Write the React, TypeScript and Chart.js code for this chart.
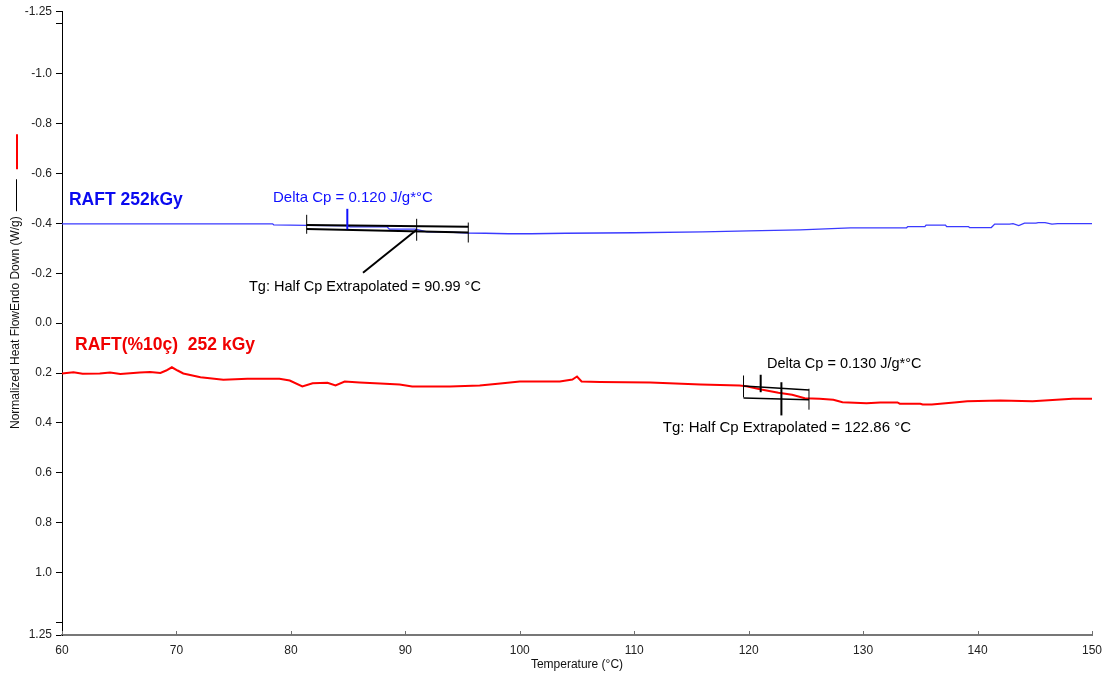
import { useEffect, useRef } from 'react';
import { Chart, registerables } from 'chart.js';

Chart.register(...registerables);

const FONT = 'Arial, "Liberation Sans", sans-serif';

// Axis ticks
const xTickValues = [60, 70, 80, 90, 100, 110, 120, 130, 140, 150];
const yTickValues = [-1.25, -1.2, -1.0, -0.8, -0.6, -0.4, -0.2, 0.0, 0.2, 0.4, 0.6, 0.8, 1.0, 1.2, 1.25];
const yTickLabels = ['-1.25', '', '-1.0', '-0.8', '-0.6', '-0.4', '-0.2', '0.0', '0.2', '0.4', '0.6', '0.8', '1.0', '', '1.25'];

// RAFT 252kGy heat flow curve (°C, W/g)
const blueTemps = [60, 78.4, 78.5, 81.4, 84.9, 85.2, 88.4, 88.6, 90.9, 91.9, 93.3, 95.5, 97, 99, 101, 104, 107, 110, 116, 120, 124.5, 128.9, 133.8, 133.9, 135.4, 135.5, 137.2, 137.3, 139.2, 139.3, 141.2, 141.5, 142.8, 143.1, 143.6, 144.1, 145.1, 145.3, 145.9, 146.5, 147, 150];
const blueFlow = [-0.398, -0.398, -0.394, -0.392, -0.390, -0.386, -0.386, -0.377, -0.377, -0.366, -0.366, -0.361, -0.360, -0.358, -0.358, -0.360, -0.361, -0.362, -0.366, -0.370, -0.374, -0.382, -0.382, -0.387, -0.387, -0.393, -0.393, -0.387, -0.387, -0.383, -0.383, -0.397, -0.397, -0.399, -0.391, -0.401, -0.401, -0.403, -0.403, -0.397, -0.399, -0.399];

// RAFT(%10ç) 252 kGy heat flow curve (°C, W/g)
const redTemps = [60, 61.0, 61.8, 63.3, 64.2, 65.1, 66.8, 67.7, 68.6, 69.1, 69.6, 70.1, 70.6, 72.1, 74.1, 76.2, 79.0, 79.9, 81.0, 81.9, 83.2, 83.9, 84.7, 86.0, 87.8, 89.5, 90.6, 93.9, 96.5, 98.3, 100.0, 103.5, 104.6, 105.0, 105.4, 107.0, 111.4, 115.8, 119.2, 119.8, 121.1, 122.6, 123.8, 124.9, 126.2, 127.4, 128.2, 130.3, 131.5, 133.0, 133.2, 135.0, 135.2, 136.0, 138.2, 139.1, 142.0, 144.8, 146.9, 148.3, 150];
const redFlow = [0.202, 0.197, 0.203, 0.202, 0.198, 0.204, 0.198, 0.196, 0.200, 0.190, 0.177, 0.190, 0.202, 0.217, 0.227, 0.223, 0.223, 0.230, 0.254, 0.241, 0.239, 0.250, 0.234, 0.238, 0.242, 0.246, 0.254, 0.254, 0.250, 0.242, 0.234, 0.234, 0.226, 0.214, 0.234, 0.236, 0.238, 0.246, 0.250, 0.253, 0.266, 0.279, 0.287, 0.301, 0.303, 0.307, 0.317, 0.321, 0.318, 0.318, 0.323, 0.323, 0.326, 0.326, 0.317, 0.313, 0.310, 0.313, 0.307, 0.303, 0.303];

// Glass transition analysis results
const blueTg = 90.99;
const redTg = 122.86;
const blueDeltaCp = 0.12;
const redDeltaCp = 0.13;

// Analysis construction lines: [T1, W1, T2, W2, lineWidth, colour]
type Seg = [number, number, number, number, number, string];
const blueTgLines: Seg[] = [
  [81.38, -0.393, 95.5, -0.386, 2, '#000'],
  [81.38, -0.377, 95.5, -0.363, 2, '#000'],
  [81.38, -0.434, 81.38, -0.358, 1, '#000'],
  [blueTg, -0.418, blueTg, -0.33, 1, '#000'],
  [95.5, -0.403, 95.5, -0.323, 1, '#000'],
  [86.3, -0.202, blueTg, -0.374, 2, '#000'],
  [84.93, -0.458, 84.93, -0.376, 2, '#1010ff'],
];
const redTgLines: Seg[] = [
  [119.55, 0.252, 125.27, 0.268, 1.5, '#000'],
  [119.55, 0.300, 125.27, 0.307, 1.5, '#000'],
  [119.55, 0.21, 119.55, 0.298, 1, '#000'],
  [121.05, 0.207, 121.05, 0.277, 2, '#000'],
  [redTg, 0.237, redTg, 0.37, 2, '#000'],
  [125.27, 0.263, 125.27, 0.347, 1, '#000'],
];

// Text labels anchored at (T, W), left-aligned
type Label = [string, number, number, string, string];
const labels: Label[] = [
  ['RAFT 252kGy', 60.61, -0.494, '#0a0aef', 'bold 17.5px'],
  ['RAFT(%10ç)  252 kGy', 61.14, 0.09, '#f00000', 'bold 17.5px'],
  [`Delta Cp = ${blueDeltaCp.toFixed(3)} J/g*°C`, 78.44, -0.502, '#1010ff', '15px'],
  [`Tg: Half Cp Extrapolated = ${blueTg.toFixed(2)} °C`, 76.34, -0.146, '#000', '14.5px'],
  [`Delta Cp = ${redDeltaCp.toFixed(3)} J/g*°C`, 121.6, 0.162, '#000', '14.5px'],
  [`Tg: Half Cp Extrapolated = ${redTg.toFixed(2)} °C`, 112.5, 0.418, '#000', '15px'],
];

const yTitle = 'Normalized Heat FlowEndo Down (W/g)';
const xTitle = 'Temperature (°C)';

const decorPlugin = {
  id: 'dscDecor',
  afterDatasetsDraw(chart: any) {
    const { ctx, chartArea, scales } = chart;
    const xs = scales.x;
    const ys = scales.y;
    ctx.save();
    // inward ticks on the temperature axis
    ctx.strokeStyle = '#707070';
    ctx.lineWidth = 1;
    xTickValues.forEach((t) => {
      const px = Math.round(xs.getPixelForValue(t)) + 0.5;
      ctx.beginPath();
      ctx.moveTo(px, chartArea.bottom);
      ctx.lineTo(px, chartArea.bottom - 4);
      ctx.stroke();
    });
    // Tg construction lines
    ctx.lineCap = 'butt';
    [...blueTgLines, ...redTgLines].forEach(([t1, w1, t2, w2, lw, col]) => {
      ctx.strokeStyle = col;
      ctx.lineWidth = lw;
      ctx.beginPath();
      ctx.moveTo(xs.getPixelForValue(t1), ys.getPixelForValue(w1));
      ctx.lineTo(xs.getPixelForValue(t2), ys.getPixelForValue(w2));
      ctx.stroke();
    });
    // labels
    ctx.textAlign = 'left';
    ctx.textBaseline = 'middle';
    labels.forEach(([text, t, w, col, f]) => {
      ctx.fillStyle = col;
      ctx.font = `${f} ${FONT}`;
      ctx.fillText(text, xs.getPixelForValue(t), ys.getPixelForValue(w));
    });
    // axis titles
    ctx.fillStyle = '#111';
    ctx.font = `12px ${FONT}`;
    ctx.textAlign = 'center';
    ctx.fillText(xTitle, (chartArea.left + chartArea.right) / 2, 665);
    ctx.translate(16, 429);
    ctx.rotate(-Math.PI / 2);
    ctx.textAlign = 'left';
    ctx.fillText(yTitle, 0, 0);
    const w = ctx.measureText(yTitle).width;
    ctx.strokeStyle = '#000';
    ctx.lineWidth = 1;
    ctx.beginPath();
    ctx.moveTo(w + 5, 0.5);
    ctx.lineTo(w + 37, 0.5);
    ctx.stroke();
    ctx.strokeStyle = '#ff0000';
    ctx.lineWidth = 2;
    ctx.beginPath();
    ctx.moveTo(w + 47, 1);
    ctx.lineTo(w + 82, 1);
    ctx.stroke();
    ctx.restore();
  },
};

export default function App() {
  const canvasRef = useRef<HTMLCanvasElement | null>(null);

  useEffect(() => {
    if (!canvasRef.current) return;
    const chart = new Chart(canvasRef.current, {
      type: 'line',
      data: {
        datasets: [
          {
            label: 'RAFT 252kGy',
            data: blueTemps.map((t, i) => ({ x: t, y: blueFlow[i] })),
            borderColor: '#3a3aff',
            borderWidth: 1.3,
            pointRadius: 0,
            tension: 0,
          },
          {
            label: 'RAFT(%10ç) 252 kGy',
            data: redTemps.map((t, i) => ({ x: t, y: redFlow[i] })),
            borderColor: '#ff0000',
            borderWidth: 2,
            pointRadius: 0,
            tension: 0,
          },
        ],
      },
      options: {
        animation: false,
        responsive: false,
        devicePixelRatio: 1,
        layout: { padding: { top: 10, right: 14, left: 0, bottom: 0 } },
        plugins: { legend: { display: false }, tooltip: { enabled: false } },
        scales: {
          x: {
            type: 'linear',
            min: 60,
            max: 150,
            afterBuildTicks: (scale: any) => {
              scale.ticks = xTickValues.map((v) => ({ value: v }));
            },
            afterFit: (scale: any) => {
              scale.height = 40;
              scale.paddingLeft = 0;
              scale.paddingRight = 0;
            },
            grid: { drawOnChartArea: false, drawTicks: false },
            border: { color: '#777', width: 2 },
            ticks: {
              autoSkip: false,
              maxRotation: 0,
              padding: 8,
              color: '#222',
              font: { family: FONT, size: 12 },
              callback: (v: any) => String(v),
            },
          },
          y: {
            type: 'linear',
            min: -1.25,
            max: 1.25,
            reverse: true,
            afterBuildTicks: (scale: any) => {
              scale.ticks = yTickValues.map((v) => ({ value: v }));
            },
            afterFit: (scale: any) => {
              scale.width = 62;
            },
            grid: { drawOnChartArea: false, drawTicks: true, tickLength: 6, color: '#000' },
            border: { color: '#000', width: 1 },
            ticks: {
              autoSkip: false,
              padding: 4,
              color: '#222',
              font: { family: FONT, size: 12 },
              callback: (_v: any, i: number) => yTickLabels[i],
            },
          },
        },
      },
      plugins: [decorPlugin],
    });
    return () => chart.destroy();
  }, []);

  return (
    <div style={{ position: 'absolute', left: 0, top: 0, width: 1106, height: 675, background: '#fff' }}>
      <canvas ref={canvasRef} width={1106} height={675} style={{ display: 'block' }} />
    </div>
  );
}
